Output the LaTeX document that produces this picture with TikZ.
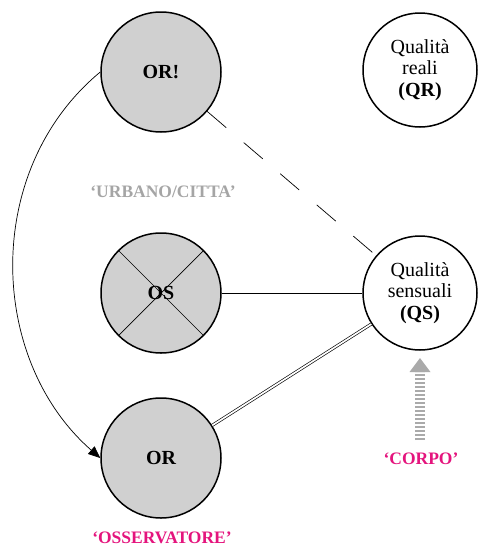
\documentclass[tikz,border=0pt]{standalone}
\usepackage{fontspec}
\setmainfont{Liberation Serif}
\usetikzlibrary{arrows.meta}
\definecolor{fillgray}{RGB}{208,208,208}
\definecolor{labelgray}{RGB}{165,165,165}
\definecolor{pinklab}{RGB}{228,20,125}
\definecolor{arrowgray}{RGB}{170,170,170}
\begin{document}
\begin{tikzpicture}[x=1pt,y=-1pt,
  objgray/.style={circle, draw, line width=1.5pt, fill=fillgray, minimum size=120pt, inner sep=0pt, font=\fontsize{20}{22}\selectfont\bfseries},
  qual/.style={circle, draw, line width=1.5pt, fill=white, minimum size=114pt, inner sep=0pt, align=center, font=\fontsize{20}{21.5}\selectfont},
  lab/.style={font=\fontsize{17.5}{20}\selectfont\bfseries},
  conn/.style={line width=0.7pt}]
\useasboundingbox (0,0) rectangle (482,547);
\node[objgray] (orx) at (161,72) {OR!};
\node[objgray, path picture={
  \draw[line width=0.7pt] (path picture bounding box.north west) -- (path picture bounding box.south east);
  \draw[line width=0.7pt] (path picture bounding box.north east) -- (path picture bounding box.south west);}] (os) at (161,293) {OS};
\node[objgray] (or) at (161,458) {OR};
\node[qual] (qr) at (420,70) {Qualità\\reali\\\textbf{(QR)}};
\node[qual] (qs) at (420,293) {Qualità\\sensuali\\\textbf{(QS)}};
\draw[conn, -{Triangle[length=12pt,width=10pt]}] (orx.west) .. controls (-18,170) and (-12,360) .. (or.west);
\draw[conn, dash pattern=on 25pt off 23pt] (orx) -- (qs);
\draw[conn] (os) -- (qs);
\draw[line width=0.65pt, double, double distance=1.7pt] (or) -- (qs);
\coordinate (gbot) at (420,440);
\coordinate (gtop) at (420,372);
\coordinate (gtip) at (420,358);
\draw[arrowgray, line width=10pt, dash pattern=on 2pt off 2pt] (gbot) -- (gtop);
\fill[arrowgray] (gtip) -- ([xshift=-10.5pt]gtop) -- ([xshift=10.5pt]gtop) -- cycle;
\node[lab, text=labelgray] (urb) at (163,192) {‘URBANO/CITTA’};
\node[lab, text=pinklab] (corpo) at (421,459) {‘CORPO’};
\node[lab, text=pinklab] (oss) at (162,538) {‘OSSERVATORE’};
\end{tikzpicture}
\end{document}
